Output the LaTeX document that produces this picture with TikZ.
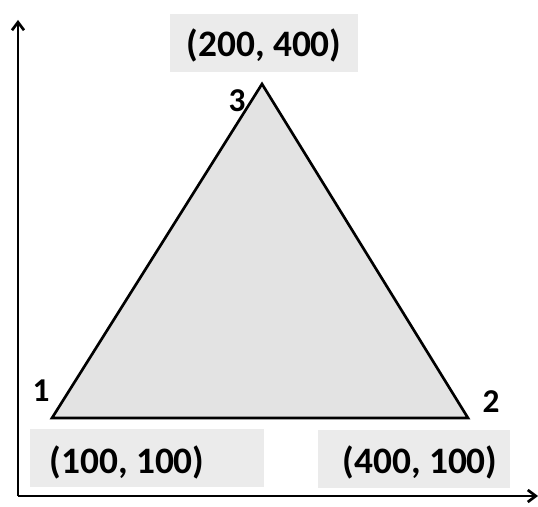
\documentclass[tikz,border=0pt]{standalone}
\usepackage{fontspec}
\setmainfont{Carlito}
\usetikzlibrary{arrows.meta}
\begin{document}
\begin{tikzpicture}[x=0.75pt,y=-0.75pt,line width=2pt]
\tikzstyle{every node}=[inner sep=0pt]
\tikzstyle{coordtext}=[font=\fontsize{28}{34}\selectfont\bfseries]
\tikzstyle{vertexlabel}=[font=\fontsize{25}{30}\selectfont\bfseries]
\tikzstyle{coordbox}=[fill=gray!16, minimum height=44pt]
\tikzstyle{axis}=[-{Straight Barb[length=6pt,width=9pt]}]

\useasboundingbox (0,0) rectangle (538,506);

% axes
\coordinate (O) at (18,496);
\coordinate (Y) at (18,20);
\coordinate (X) at (538,496);

% triangle
\coordinate (P1) at ( 52,418);
\coordinate (P2) at (468,418);
\coordinate (P3) at (262, 84);

% shaded boxes behind the coordinates
\node[coordbox, minimum width=141pt] (B3) at (264, 43) {};
\node[coordbox, minimum width=176pt] (B1) at (147,458) {};
\node[coordbox, minimum width=144pt] (B2) at (414,459) {};

\fill[gray!22] (P1) -- (P2) -- (P3) -- cycle;
\draw[line join=miter] (P1) -- (P2) -- (P3) -- cycle;

\draw[axis] (O) -- (Y);
\draw[axis] (O) -- (X);

\node[vertexlabel] (N1) at ( 41,391) {1};
\node[vertexlabel] (N2) at (491,402) {2};
\node[vertexlabel] (N3) at (237,101) {3};

\node[coordtext] (C3) at (264, 45) {(200, 400)};
\node[coordtext] (C1) at (127,462) {(100, 100)};
\node[coordtext] (C2) at (420,462) {(400, 100)};
\end{tikzpicture}
\end{document}
